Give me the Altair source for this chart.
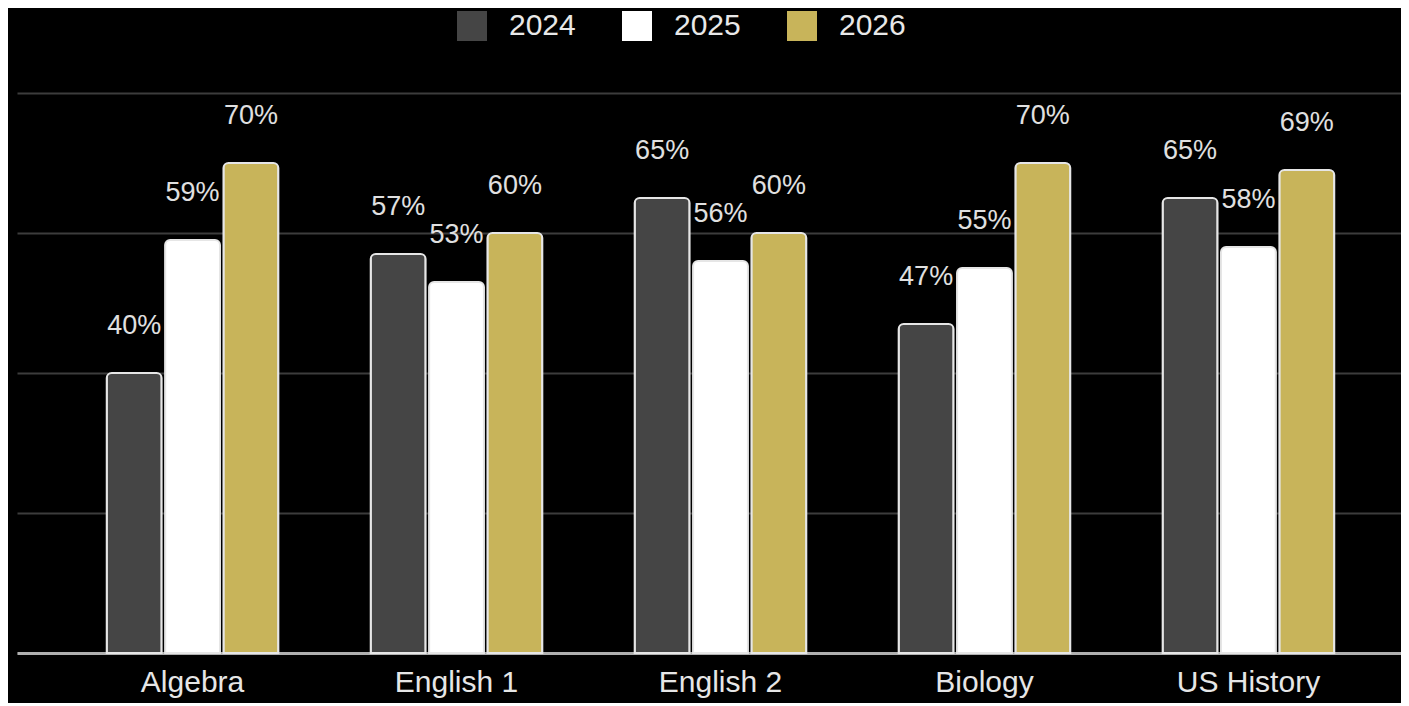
import altair as alt
import pandas as pd

subjects = ["Algebra", "English 1", "English 2", "Biology", "US History"]
years = ["2024", "2025", "2026"]
v2024 = [40, 57, 65, 47, 65]
v2025 = [59, 53, 56, 55, 58]
v2026 = [70, 60, 60, 70, 69]
colors = ["#454545", "#ffffff", "#c8b45a"]

rows = []
for yr, vals in zip(years, [v2024, v2025, v2026]):
    for s, v in zip(subjects, vals):
        rows.append({"subject": s, "year": yr, "value": v, "label": f"{v}%"})
df = pd.DataFrame(rows)

FONT = "Liberation Sans"

x = alt.X("subject:N", sort=subjects, title=None,
          scale=alt.Scale(range=[0, 1407], paddingInner=0.35, paddingOuter=0.34),
          axis=alt.Axis(labelFontSize=30, labelColor="#e6e6e6", labelFont=FONT,
                        labelPadding=14, ticks=False, domain=True, domainColor="#b0b0b0",
                        domainWidth=3, labelAngle=0))
xo = alt.XOffset("year:N", sort=years, scale=alt.Scale(paddingInner=0.06))
y = alt.Y("value:Q", title=None,
          scale=alt.Scale(domain=[0, 80], nice=False),
          axis=alt.Axis(values=[0, 20, 40, 60, 80], labels=False, ticks=False, domain=False,
                        grid=True, gridColor="#3c3c3c", gridWidth=2))

bars = alt.Chart(df).mark_bar(
    cornerRadiusTopLeft=5, cornerRadiusTopRight=5, stroke="#e6e6e6", strokeWidth=2
).encode(
    x=x, xOffset=xo, y=y,
    color=alt.Color("year:N", sort=years,
                    scale=alt.Scale(domain=years, range=colors),
                    legend=alt.Legend(title=None, orient="none", direction="horizontal",
                                      legendX=440, legendY=-82, padding=0,
                                      symbolType="square", symbolSize=900,
                                      symbolStrokeWidth=0, symbolOpacity=1,
                                      labelFontSize=30, labelColor="#e8e8e8", labelFont=FONT,
                                      labelOffset=22, columnPadding=46)),
)

text = alt.Chart(df).mark_text(
    dy=-39, fontSize=27, color="#e0e0e0", font=FONT, baseline="alphabetic"
).encode(x=x, xOffset=xo, y=alt.Y("value:Q"), text="label:N")

chart = alt.layer(bars, text).properties(
    width=1384, height=560, background="#000000",
    autosize=alt.AutoSizeParams(type="none"),
    padding={"left": 9, "top": 85, "right": 0, "bottom": 50},
).configure_view(stroke=None)

chart.save("out.html", embed_options={"renderer": "svg", "actions": False})
